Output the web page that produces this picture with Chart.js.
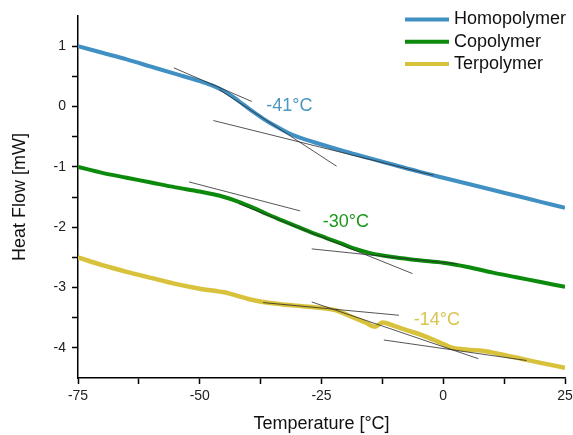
<!DOCTYPE html>
<html>
<head>
<meta charset="utf-8">
<script src="https://cdn.jsdelivr.net/npm/chart.js@4"></script>
<style>
  html, body { margin: 0; padding: 0; background: #fff; }
  #wrap { width: 573px; height: 435px; }
</style>
</head>
<body>
<div id="wrap"><canvas id="chart-dsc" width="573" height="435"></canvas></div>
<script>
// DSC curves, heat flow [mW] vs temperature [°C]
const homoT  = [-75, -70, -65, -60, -55, -50, -47, -45, -43, -41, -39, -37, -35, -32, -30, -25, -20, -15, -10, -5, 0, 5, 10, 15, 20, 25];
const homoHF = [1.00, 0.89, 0.78, 0.66, 0.54, 0.42, 0.335, 0.255, 0.15, 0.03, -0.09, -0.20, -0.30, -0.43, -0.50, -0.63, -0.75, -0.86, -0.97, -1.08, -1.18, -1.28, -1.38, -1.48, -1.58, -1.68];

const coT  = [-75, -70, -65, -60, -55, -50, -45, -42, -39, -36, -33, -30, -27, -24, -21, -18, -15, -10, -5, 0, 5, 10, 15, 20, 25];
const coHF = [-1.00, -1.10, -1.18, -1.26, -1.34, -1.41, -1.50, -1.58, -1.68, -1.79, -1.89, -1.99, -2.09, -2.18, -2.27, -2.36, -2.43, -2.50, -2.55, -2.59, -2.66, -2.75, -2.83, -2.91, -2.99];

const terT  = [-75, -70, -65, -60, -55, -50, -45, -40, -37, -33, -29, -25, -22, -19, -16, -14, -12.5, -10, -7, -4, -1, 2, 5, 8, 12, 16, 20, 25];
const terHF = [-2.50, -2.63, -2.74, -2.84, -2.94, -3.02, -3.08, -3.19, -3.24, -3.28, -3.31, -3.34, -3.38, -3.48, -3.58, -3.65, -3.58, -3.64, -3.72, -3.80, -3.90, -4.00, -4.03, -4.05, -4.11, -4.18, -4.25, -4.33];

const seriesNames = ["Homopolymer", "Copolymer", "Terpolymer"];
const glassTemps  = ["-41°C", "-30°C", "-14°C"];

// tangent construction lines: [x1, y1, x2, y2]
const tangents = [
  [-55.3, 0.64, -39.3, 0.083], [-47.2, -0.233, -2.0, -1.14], [-46, 0.28, -21.9, -0.99],
  [-52.2, -1.25, -29.4, -1.73], [-27.0, -2.36, 2.8, -2.61], [-42, -1.61, -6.3, -2.77],
  [-37, -3.25, -9.1, -3.46], [-27, -3.24, 7.2, -4.18], [-12.2, -3.87, 17.1, -4.21],
];

const colors    = ["#4190c3", "#0b8a0b", "#d8c23c"];
const textCols  = ["#4a97c4", "#1a991a", "#d9c54e"];
const labelPos  = [[-31.6, 0.0], [-20.0, -1.91], [-1.3, -3.54]];
const FONT = "Arial, 'Liberation Sans', sans-serif";

const pts = (xs, ys) => xs.map((x, i) => ({ x, y: ys[i] }));

const curveSets = [[homoT, homoHF], [coT, coHF], [terT, terHF]].map(([xs, ys], i) => ({
  label: seriesNames[i], data: pts(xs, ys), borderColor: colors[i], backgroundColor: colors[i],
  borderWidth: i === 2 ? 4.5 : 4, pointRadius: 0, cubicInterpolationMode: "monotone", order: 1,
}));
const tangentSets = tangents.map(t => ({
  label: "", data: [{ x: t[0], y: t[1] }, { x: t[2], y: t[3] }], borderColor: "#2a2a2a",
  borderWidth: 0.8, pointRadius: 0, order: 0,
}));

// legend (top right, inside plot) + Tg labels
const overlay = {
  id: "overlay",
  afterDraw(chart) {
    const { ctx, scales: { x, y } } = chart;
    ctx.save();
    ctx.font = "18px " + FONT;
    ctx.textBaseline = "middle";
    seriesNames.forEach((name, i) => {
      const yy = 19.5 + i * 22.3;
      ctx.strokeStyle = colors[i]; ctx.lineWidth = 4;
      ctx.beginPath(); ctx.moveTo(405, yy); ctx.lineTo(449, yy); ctx.stroke();
      ctx.fillStyle = "#111"; ctx.textAlign = "left";
      ctx.fillText(name, 454, yy);
    });
    glassTemps.forEach((txt, i) => {
      ctx.fillStyle = textCols[i]; ctx.textAlign = "center";
      ctx.fillText(txt, x.getPixelForValue(labelPos[i][0]), y.getPixelForValue(labelPos[i][1]));
    });
    ctx.restore();
  },
};

const edgeTick = (ctx) => (ctx.tick && (ctx.tick.value === 1.5 || ctx.tick.value === -4.5)) ? "rgba(0,0,0,0)" : "#000";

new Chart(document.getElementById("chart-dsc").getContext("2d"), {
  type: "line",
  data: { datasets: [...curveSets, ...tangentSets] },
  options: {
    responsive: false, animation: false,
    layout: { padding: { top: 16, right: 8, left: 0, bottom: 0 } },
    plugins: { legend: { display: false }, tooltip: { enabled: false } },
    scales: {
      x: {
        type: "linear", min: -75, max: 25,
        afterFit: (s) => { s.height = 57; s.paddingLeft = 0; s.paddingRight = 0; },
        border: { color: "#000", width: 1.5 },
        grid: { drawOnChartArea: false, tickLength: 6, tickColor: "#000", tickWidth: 1.5 },
        ticks: { stepSize: 12.5, autoSkip: false, maxRotation: 0, padding: 4, color: "#222", font: { family: FONT, size: 14 },
                 callback: (v) => (v % 25 === 0 ? v : "") },
        title: { display: true, text: "Temperature [°C]", color: "#111", font: { family: FONT, size: 18 }, padding: { top: 0, bottom: 0 } },
      },
      y: {
        min: -4.5, max: 1.5,
        afterFit: (s) => { s.width = 78; s.paddingTop = 0; s.paddingBottom = 0; },
        border: { color: "#000", width: 1.5 },
        grid: { drawOnChartArea: false, tickLength: 6, tickColor: edgeTick, tickWidth: 1.5 },
        ticks: { stepSize: 0.5, autoSkip: false, padding: 6, color: "#222", font: { family: FONT, size: 14 },
                 callback: (v) => (Number.isInteger(v) ? v : "") },
        title: { display: true, text: "Heat Flow [mW]", color: "#111", font: { family: FONT, size: 18 }, padding: { top: 9, bottom: 0 } },
      },
    },
  },
  plugins: [overlay],
});
</script>
</body>
</html>
